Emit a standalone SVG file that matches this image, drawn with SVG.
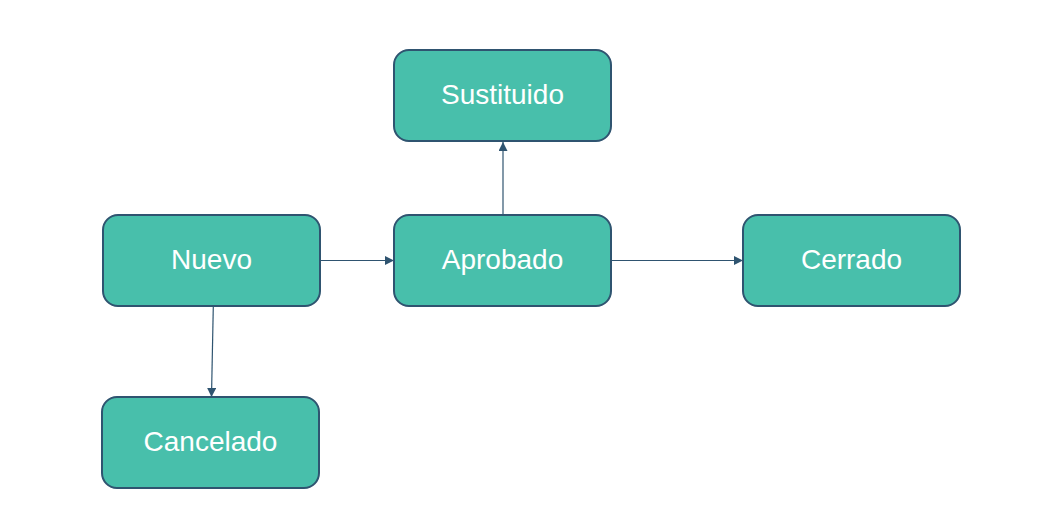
<svg xmlns="http://www.w3.org/2000/svg" width="1054" height="516" viewBox="0 0 1054 516">
<style>
.node rect{fill:#48bfab;stroke:#2f5470;stroke-width:2}
.node text{fill:#ffffff;font-family:"Liberation Sans",Arial,sans-serif;font-size:28px;text-anchor:middle}
.edge{stroke:#2f5470;stroke-width:1.2;fill:none;marker-end:url(#arr)}
</style>
<defs>
<marker id="arr" viewBox="0 0 10 10" refX="10" refY="5" markerWidth="10" markerHeight="9" markerUnits="userSpaceOnUse" orient="auto">
<path d="M0,0 L10,5 L0,10 z" fill="#2f5470"/>
</marker>
</defs>
<rect width="1054" height="516" fill="#ffffff"/>
<g id="connectors">
<path class="edge" d="M320,260.5 L394,260.5"/>
<path class="edge" d="M611,260.5 L743,260.5"/>
<path class="edge" d="M503,215 L503,142"/>
<path class="edge" d="M213.3,306 L211.5,397"/>
</g>
<g id="node-sustituido" class="node">
<rect x="394" y="50" width="217" height="91" rx="15"/>
<text x="502.5" y="104">Sustituido</text>
</g>
<g id="node-nuevo" class="node">
<rect x="103" y="215" width="217" height="91" rx="15"/>
<text x="211.5" y="269">Nuevo</text>
</g>
<g id="node-aprobado" class="node">
<rect x="394" y="215" width="217" height="91" rx="15"/>
<text x="502.5" y="269">Aprobado</text>
</g>
<g id="node-cerrado" class="node">
<rect x="743" y="215" width="217" height="91" rx="15"/>
<text x="851.5" y="269">Cerrado</text>
</g>
<g id="node-cancelado" class="node">
<rect x="102" y="397" width="217" height="91" rx="15"/>
<text x="210.5" y="451">Cancelado</text>
</g>
</svg>
